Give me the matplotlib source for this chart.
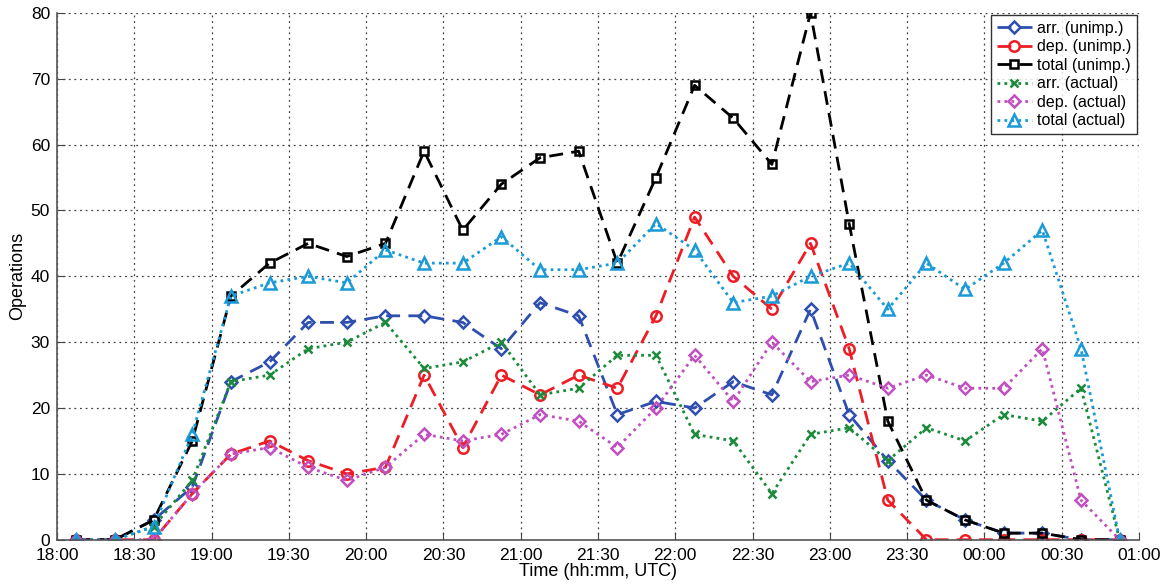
import matplotlib
matplotlib.use("Agg")
import matplotlib.pyplot as plt
import matplotlib.dates as mdates
import pandas as pd

plt.rcParams['font.family'] = ['Liberation Sans', 'DejaVu Sans']

# 15-minute bins, plotted at the bin centre
times = pd.date_range("2010-06-01 18:07:30", periods=28, freq="15min")

arr_unimp = [0, 0, 3, 8, 24, 27, 33, 33, 34, 34, 33, 29, 36, 34, 19, 21, 20, 24, 22, 35,
             19, 12, 6, 3, 1, 1, 0, 0]
dep_unimp = [0, 0, 0, 7, 13, 15, 12, 10, 11, 25, 14, 25, 22, 25, 23, 34, 49, 40, 35, 45,
             29, 6, 0, 0, 0, 0, 0, 0]
total_unimp = [0, 0, 3, 15, 37, 42, 45, 43, 45, 59, 47, 54, 58, 59, 42, 55, 69, 64, 57, 80,
               48, 18, 6, 3, 1, 1, 0, 0]
arr_actual = [0, 0, 2, 9, 24, 25, 29, 30, 33, 26, 27, 30, 22, 23, 28, 28, 16, 15, 7, 16,
              17, 12, 17, 15, 19, 18, 23, 0]
dep_actual = [0, 0, 0, 7, 13, 14, 11, 9, 11, 16, 15, 16, 19, 18, 14, 20, 28, 21, 30, 24,
              25, 23, 25, 23, 23, 29, 6, 0]
total_actual = [0, 0, 2, 16, 37, 39, 40, 39, 44, 42, 42, 46, 41, 41, 42, 48, 44, 36, 37, 40,
                42, 35, 42, 38, 42, 47, 29, 0]

series = [
    (arr_unimp, "arr. (unimp.)", "#2e4fae", "D", (0, (5, 3)), 6),
    (dep_unimp, "dep. (unimp.)", "#ee1c25", "o", (0, (5, 3)), 7.5),
    (total_unimp, "total (unimp.)", "black", "s", (0, (5, 3)), 6),
    (arr_actual, "arr. (actual)", "#1b8a3a", "x", (0, (1, 1.5)), 5.5),
    (dep_actual, "dep. (actual)", "#c050c0", "D", (0, (1, 1.5)), 6),
    (total_actual, "total (actual)", "#1a9ad6", "^", (0, (1, 1.5)), 8),
]

fig = plt.figure(figsize=(11.64, 5.86), dpi=100)
ax = fig.add_axes([0.049, 0.079, 0.9295, 0.899])

for values, label, color, marker, ls, ms in series:
    ax.plot(times, values, color=color, linestyle=ls, linewidth=2.0, marker=marker,
            markersize=ms, markerfacecolor="none", markeredgecolor=color,
            markeredgewidth=1.8, label=label)

ax.set_xlim(pd.Timestamp("2010-06-01 18:00"), pd.Timestamp("2010-06-02 01:00"))
ax.set_ylim(0, 80)
ax.set_yticks(range(0, 81, 10))
ax.xaxis.set_major_locator(mdates.MinuteLocator(byminute=[0, 30]))
ax.xaxis.set_major_formatter(mdates.DateFormatter("%H:%M"))

ax.grid(True, color="#444444", linestyle=(0, (1.5, 3)), linewidth=0.9)
ax.tick_params(direction="in", length=6, labelsize=12.5, color="#444444")
ax.tick_params(axis="x", pad=6)
ax.tick_params(axis="y", pad=5)
for side in ["top", "right"]:
    ax.spines[side].set_visible(False)
for side in ["left", "bottom"]:
    ax.spines[side].set_color("#555555")
    ax.spines[side].set_linewidth(1.2)

ax.set_xlabel("Time (hh:mm, UTC)", fontsize=13, labelpad=0)
ax.set_ylabel("Operations", fontsize=13, labelpad=3)

leg = ax.legend(loc="upper right", fontsize=11.5, frameon=True, fancybox=False,
                handlelength=2.2, handletextpad=0.3, borderpad=0.35, labelspacing=0.22,
                borderaxespad=0.15)
leg.get_frame().set_edgecolor("black")
leg.get_frame().set_linewidth(1.0)

fig.savefig("out.png", dpi=100)
